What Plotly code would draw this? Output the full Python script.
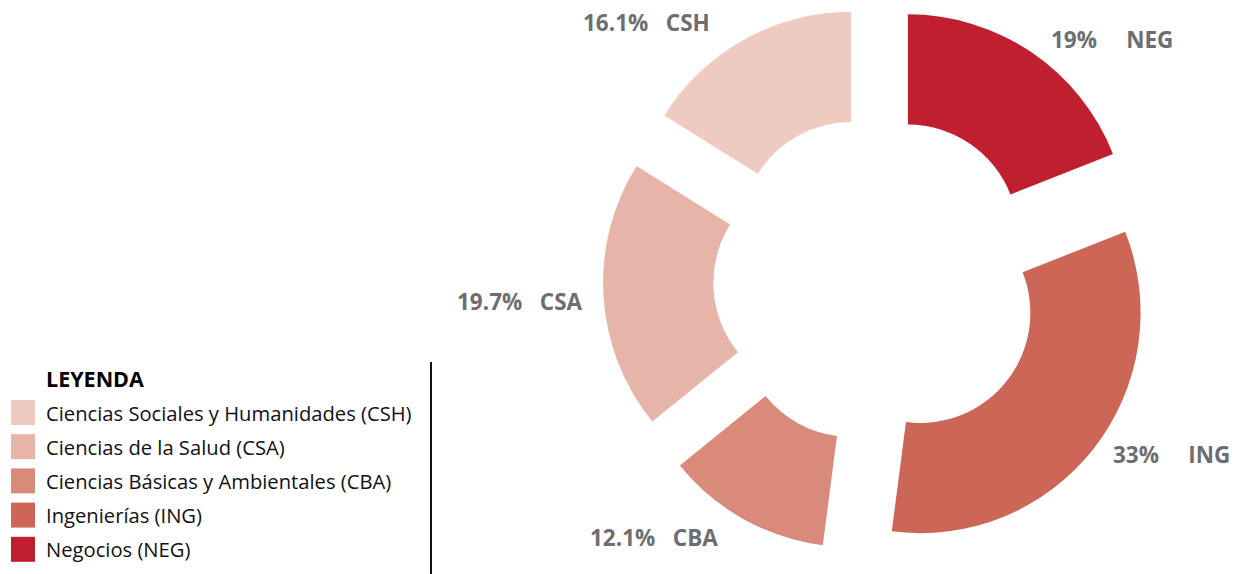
import plotly.graph_objects as go

# Data
codes = ["NEG", "ING", "CBA", "CSA", "CSH"]
names = ["Negocios (NEG)", "Ingenierías (ING)", "Ciencias Básicas y Ambientales (CBA)",
         "Ciencias de la Salud (CSA)", "Ciencias Sociales y Humanidades (CSH)"]
values = [19.0, 33.0, 12.1, 19.7, 16.1]
pct_text = ["19%", "33%", "12.1%", "19.7%", "16.1%"]
colors = ["#C01F30", "#CC6656", "#D98A7A", "#E6B4A8", "#EDCBC1"]

# Legend order (top to bottom)
legend_order = ["CSH", "CSA", "CBA", "ING", "NEG"]

W, H = 1238, 574

def px(x):
    return x / W

def py(y):
    return 1 - y / H

fig = go.Figure()
fig.add_trace(go.Pie(
    labels=codes, values=values, sort=False, direction="clockwise", rotation=0,
    hole=0.5, pull=[0.245] * len(values),
    marker=dict(colors=colors, line=dict(width=0)),
    textinfo="none", hoverinfo="label+percent", showlegend=False,
    domain=dict(x=[px(877.5) - 0.25, px(877.5) + 0.25], y=[py(554), py(5)]),
))

# Slice labels (placement next to each slice)
label_pos = {"NEG": (1051, 40), "ING": (1113, 454), "CBA": (590, 537),
             "CSA": (457, 301), "CSH": (583, 22)}
gaps = {"NEG": 5, "ING": 5, "CBA": 3, "CSA": 3, "CSH": 3}
annotations = []
for c, p in zip(codes, pct_text):
    x, y = label_pos[c]
    annotations.append(dict(
        x=px(x - 2), y=py(y), xref="paper", yref="paper", showarrow=False,
        text=p + "\u00a0" * gaps[c] + c, xanchor="left", yanchor="middle",
        font=dict(family="Open Sans", size=22.5, color="#6D6E71", weight="bold"),
    ))

# Manual legend
annotations.append(dict(
    x=px(44), y=py(378), xref="paper", yref="paper", showarrow=False,
    text="<b>LEYENDA</b>", xanchor="left", yanchor="middle",
    font=dict(family="Open Sans", size=21.5, color="#000000"),
))
shapes = []
for i, c in enumerate(legend_order):
    k = codes.index(c)
    yc = 412.5 + i * 34.2
    shapes.append(dict(type="rect", xref="paper", yref="paper",
                       x0=px(11), x1=px(35), y0=py(yc - 12.5), y1=py(yc + 12.5),
                       fillcolor=colors[k], line=dict(width=0)))
    annotations.append(dict(
        x=px(44), y=py(yc), xref="paper", yref="paper", showarrow=False,
        text=names[k], xanchor="left", yanchor="middle",
        font=dict(family="Open Sans", size=20.2, color="#111111"),
    ))
shapes.append(dict(type="line", xref="paper", yref="paper",
                   x0=px(431), x1=px(431), y0=py(362), y1=py(574),
                   line=dict(color="#111111", width=2)))

fig.update_layout(
    width=W, height=H, margin=dict(l=0, r=0, t=0, b=0),
    paper_bgcolor="white", plot_bgcolor="white",
    annotations=annotations, shapes=shapes, showlegend=False,
)
fig.write_html("out.html")
